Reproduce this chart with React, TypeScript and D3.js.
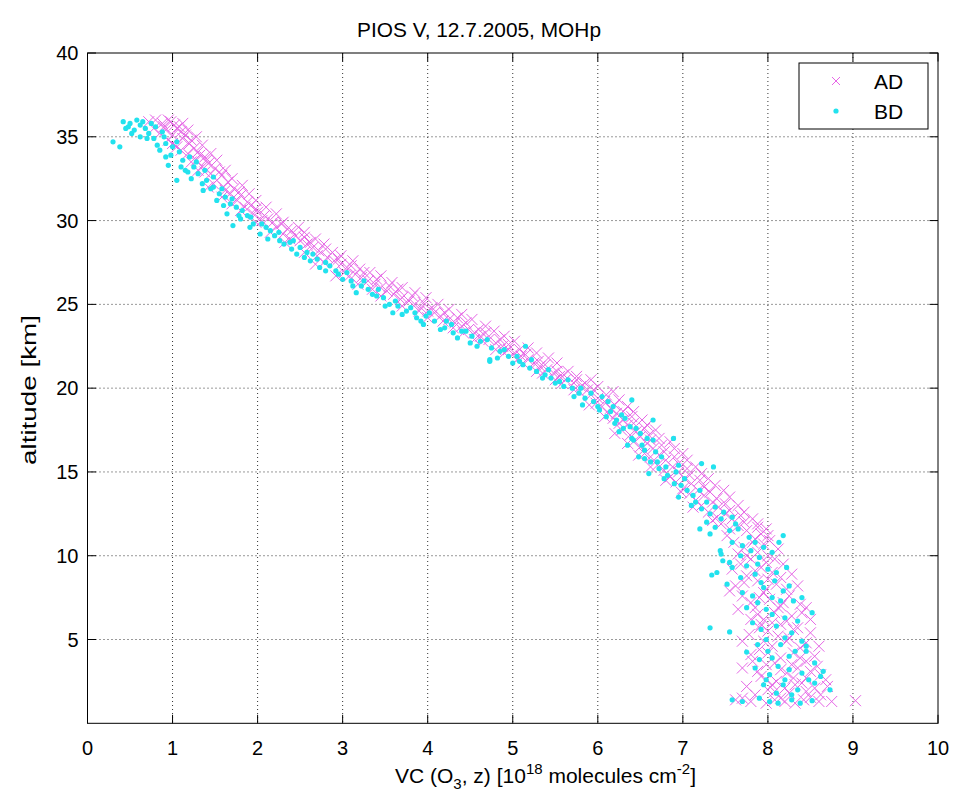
import React from "react";
import * as d3 from "d3";

const title = "PIOS V, 12.7.2005, MOHp";
const xTicks = [0, 1, 2, 3, 4, 5, 6, 7, 8, 9, 10];
const yTicks = [5, 10, 15, 20, 25, 30, 35, 40];
const seriesNames = ["AD", "BD"];

// AD (magenta x markers): [VC, altitude]
const adPoints: [number, number][] = [
  [0.72,35.9],[0.80,36.0],[0.88,35.8],[0.95,36.0],[1.02,35.7],[0.78,35.5],[0.92,35.4],[1.05,35.5],[0.85,35.2],[1.00,35.1],[1.10,35.3],[0.95,34.8],[1.12,34.9],[1.20,34.6],[1.05,34.4],[1.25,34.3],[1.18,34.0],[1.30,34.1],[1.38,33.8],[1.28,33.6],
  [1.42,33.4],[1.35,33.2],[1.50,33.1],[1.45,32.8],[1.58,32.7],[1.52,32.4],[1.65,32.3],[1.60,32.0],[1.72,31.9],[1.68,31.6],[1.80,31.5],[1.76,31.2],[1.88,31.1],[1.85,30.8],
  [1.98,30.7],[1.95,30.4],[2.08,30.3],[2.05,30.0],[2.18,29.9],[2.22,29.6],[2.35,29.5],[2.30,29.2],[2.45,29.1],[2.50,28.8],[2.58,28.6],[2.65,28.4],[2.72,28.2],[2.70,27.9],
  [2.82,27.8],[2.90,27.6],[2.98,27.4],[3.05,27.2],[3.02,26.9],[3.15,26.8],[3.22,26.6],[3.30,26.4],[3.38,26.2],[3.45,26.0],[3.52,25.8],[3.60,25.6],
  [3.70,25.4],[3.78,25.2],[3.85,25.0],[3.92,24.8],[4.00,24.6],[4.08,24.5],[4.15,24.3],[4.25,24.1],[4.32,23.9],[4.40,23.7],[4.48,23.5],[4.55,23.3],[4.62,23.1],[4.72,22.9],[4.80,22.7],[4.88,22.5],[4.95,22.3],[5.02,22.1],[5.10,21.9],[5.18,21.7],[5.25,21.5],[5.32,21.3],[5.40,21.1],[5.48,20.9],[5.55,20.7],[5.62,20.5],[5.72,20.3],[5.80,20.1],[5.88,19.9],[5.92,19.6],[6.00,19.4],[6.08,19.2],[6.05,18.9],[6.15,18.8],[6.22,18.5],[6.18,18.2],[6.30,18.1],[6.35,17.8],[6.28,17.5],[6.45,17.4],[6.50,17.1],[6.42,16.8],[6.58,16.7],[6.65,16.4],[6.55,16.1],[6.72,16.0],[6.80,15.7],[6.70,15.4],[6.88,15.3],[6.95,15.0],[6.85,14.7],[7.02,14.6],[7.10,14.3],[7.00,14.0],[7.18,13.9],[7.25,13.6],[7.15,13.3],[7.35,13.2],[7.42,12.9],[7.30,12.6],[7.50,12.5],[7.58,12.2],[7.45,11.9],[7.65,11.8],[7.75,11.5],[7.92,11.3],[7.85,11.0],[7.95,10.7],[7.72,10.5],[7.88,10.2],[8.00,10.0],[7.80,9.8],[7.68,9.5],[7.92,9.3],[8.05,9.0],[7.75,8.8],[7.88,8.5],[8.10,8.3],[8.22,8.0],[7.95,7.8],[7.70,7.6],[8.02,7.4],[8.18,7.2],[8.38,7.1],[7.85,6.9],[8.08,6.6],[8.28,6.4],[7.95,6.2],[8.15,5.9],[8.35,5.7],[8.00,5.5],[7.78,5.3],[8.25,5.1],[8.45,4.8],[8.05,4.6],[7.90,4.4],[8.30,4.2],[8.15,3.9],[8.45,3.7],[7.98,3.5],[7.70,3.3],[8.35,3.3],[8.22,3.0],[8.62,2.9],[7.92,2.8],[8.10,2.5],[8.40,2.4],[8.55,2.1],[8.00,2.0],[8.25,1.8],[7.85,1.7],
  [7.62,1.4],[7.80,1.3],[7.98,1.2],[8.08,1.4],[8.20,1.3],[8.42,1.4],[8.60,1.3],[8.75,1.3],[9.03,1.35],[8.15,1.5],[8.32,1.2],
  [0.98,35.9],[1.08,35.6],[1.15,35.1],[1.00,34.6],[1.22,34.8],[1.32,33.9],[1.40,33.6],[1.30,33.0],[1.55,32.9],[1.48,32.2],[1.62,31.8],[1.78,31.7],[1.70,31.0],[1.92,30.9],[2.00,30.5],[2.12,30.1],[2.28,29.8],[2.40,29.4],[2.38,28.9],[2.55,29.0],[2.62,28.7],[2.80,28.3],[2.78,27.5],[2.95,27.7],[3.10,27.3],[3.08,26.7],[3.25,26.9],[3.40,26.5],[3.35,25.9],[3.55,26.1],[3.65,25.9],[3.68,25.3],[3.82,25.5],[3.95,25.1],[3.90,24.6],[4.05,24.8],[4.20,24.5],[4.18,24.0],[4.35,24.2],[4.45,23.9],[4.42,23.3],[4.60,23.5],[4.68,23.3],[4.65,22.8],[4.85,22.9],[4.95,22.6],[4.90,22.1],[5.08,22.3],[5.15,22.0],[5.12,21.5],[5.30,21.6],[5.38,21.4],[5.35,20.9],[5.52,21.0],[5.60,20.8],[5.58,20.3],[5.75,20.5],[5.85,20.3],[5.78,19.8],[5.95,19.9],[6.10,19.6],[5.98,19.1],[6.20,19.0],[6.12,18.5],[6.30,18.6],[6.40,18.3],[6.25,17.9],[6.42,17.9],[6.55,17.6],[6.38,17.2],[6.60,17.2],[6.62,16.9],[6.50,16.5],[6.75,16.6],[6.78,16.2],[6.62,15.9],[6.90,15.9],[6.95,15.5],[6.78,15.1],[7.05,15.2],[7.08,14.8],[6.92,14.4],[7.20,14.5],[7.25,14.1],[7.08,13.7],[7.32,13.8],[7.40,13.4],[7.22,13.0],[7.50,13.1],[7.55,12.7],[7.40,12.3],[7.68,12.4],[7.72,12.0],[7.55,11.6],[7.88,11.7],[8.00,11.2],[7.82,10.8],[7.65,10.1],[8.12,10.4],[7.98,9.6],[7.85,9.1],[8.15,8.7],[7.62,8.2],[7.98,8.0],[8.25,7.6],[7.80,7.2],[8.12,6.9],[7.88,6.5],[8.40,6.6],[8.05,6.0],[7.90,5.7],[8.50,5.4],[8.12,5.2],[7.95,4.9],[8.38,4.5],[7.80,4.1],[8.55,4.0],[8.08,3.6],[8.28,3.5],[8.50,3.1],[7.88,3.1],[8.30,2.7],[8.05,2.3],[8.68,2.6],[8.20,2.1],[8.45,1.9],
  [1.12,35.8],[0.90,35.6],[1.18,35.4],[1.28,35.0],[1.35,34.5],[1.10,34.2],[1.45,34.0],[1.22,33.5],[1.52,33.6],[1.38,32.9],[1.62,33.0],[1.70,32.5],[1.42,32.0],[1.82,32.1],[1.58,31.4],[1.90,31.6],[1.98,31.2],[1.80,30.6],[2.10,30.8],[2.22,30.4],[1.98,29.9],[2.30,29.9],[2.15,29.3],[2.48,29.6],[2.55,29.3],[2.32,28.7],[2.68,28.9],[2.78,28.6],[2.55,28.1],[2.88,28.1],[2.98,27.9],[2.68,27.4],[3.12,27.6],[3.20,27.1],[2.92,26.7],[3.32,26.9],[3.45,26.7],[3.18,26.2],[3.58,26.3],[3.70,26.0],[3.45,25.5],[3.85,25.7],[3.98,25.4],[3.70,24.9],[4.12,25.0],[4.25,24.7],[4.00,24.2],[4.40,24.4],[4.52,24.1],[4.30,23.6],[4.68,23.7],[4.78,23.4],[4.55,22.9],[4.90,23.1],[5.02,22.8],[4.80,22.3],[5.18,22.4],[5.28,22.1],[5.05,21.7],[5.42,21.8],[5.52,21.5],[5.28,21.0],[5.65,21.0],[5.75,20.7],[5.50,20.5],[5.92,20.5],[6.00,20.1],[5.72,19.9],[6.18,19.8],[6.25,19.3],[5.90,19.0],[6.35,18.9],[6.42,18.6],[6.08,18.3],[6.52,18.1],[6.58,17.8],[6.20,17.3],[6.68,17.5],[6.72,17.0],[6.35,16.7],[6.85,16.8],[6.90,16.4],[6.48,16.0],[7.00,16.1],[7.05,15.7],[6.62,15.3],[7.15,15.3],[7.22,14.9],[6.80,14.5],[7.30,14.6],[7.38,14.2],[6.98,13.8],[7.48,13.9],[7.55,13.5],[7.12,12.9],[7.65,13.0],[7.72,12.6],[7.35,12.1],[7.82,12.2],[7.88,11.9],[7.52,11.2],[7.98,11.6],[8.02,10.9],[7.60,10.8],[7.75,10.0],[8.08,9.8],[7.58,9.2],[8.18,9.5],[7.72,8.4],[8.28,8.9],[8.00,8.6],[7.55,7.9],[8.35,8.2],[7.90,7.5],[8.15,7.0],[7.65,6.8],[8.45,6.9],[7.80,6.2],[8.22,6.1],[8.50,6.2],[7.92,5.9],[8.30,5.6],[7.70,4.9],[8.22,4.9],[8.60,4.6],[8.00,4.2],[8.38,3.9],[7.82,3.7],[8.58,3.4],[8.15,3.2],[7.98,2.6],[8.45,2.7],[8.70,2.2],[7.75,2.2],[8.32,2.3],[8.08,1.9],[8.62,1.7],[7.70,1.5],[8.50,1.55]
];

// BD (cyan dots): [VC, altitude]
const bdPoints: [number, number][] = [
  [0.42,35.9],[0.50,35.8],[0.58,36.0],[0.48,35.6],[0.62,35.7],[0.55,35.4],[0.68,35.5],[0.72,35.2],[0.38,34.4],[0.30,34.7],[0.62,35.0],[0.80,35.6],[0.88,35.3],[0.78,34.9],[0.92,34.6],[0.85,34.2],[1.00,34.4],[0.98,33.9],[1.08,34.1],[0.95,33.3],[1.12,33.6],[1.20,33.8],[1.05,32.4],[1.15,33.0],[1.25,33.2],[1.30,32.8],[1.22,32.5],[1.36,31.8],[1.40,32.4],[1.48,32.6],[1.45,31.9],[1.55,31.6],[1.52,31.2],[1.62,31.4],[1.64,30.4],[1.68,31.0],[1.75,30.8],[1.71,29.7],[1.82,30.6],[1.80,30.1],[1.91,29.6],[1.92,30.2],[2.03,29.2],[2.05,29.8],[2.15,29.4],[2.26,28.8],[2.20,29.1],[2.31,28.6],[2.38,28.7],[2.46,28.0],[2.50,28.4],[2.62,27.6],[2.58,28.1],[2.73,27.2],[2.70,27.7],[2.85,27.3],[2.92,27.0],[3.00,26.5],[3.10,26.4],[3.16,25.7],[3.22,26.1],[3.30,25.9],[3.40,25.5],[3.48,25.4],[3.59,24.5],[3.55,25.0],[3.65,24.9],[3.75,24.6],[3.87,24.2],[3.85,24.5],[3.98,24.3],[4.08,24.0],[4.20,23.6],[4.30,23.3],[4.28,23.8],[4.40,23.4],[4.50,22.7],[4.52,23.1],[4.62,22.8],[4.73,21.7],[4.75,22.4],[4.85,22.2],[4.95,21.9],[5.00,21.5],[5.08,21.6],[5.15,22.5],[5.20,21.2],[5.28,21.0],[5.38,20.8],[5.45,20.6],[5.50,20.3],[5.60,20.1],[5.70,20.0],[5.78,19.7],[5.85,19.4],[5.82,19.0],[5.95,19.2],[6.05,19.5],[6.02,18.7],[6.10,18.3],[6.18,18.9],[6.20,17.9],[6.28,18.4],[6.25,17.4],[6.38,17.7],[6.40,17.0],[6.50,17.3],[6.35,16.6],[6.55,16.3],[6.65,16.9],[6.48,15.9],[6.62,15.6],[6.75,15.9],[6.72,15.2],[6.60,14.9],[6.82,14.8],[6.95,15.4],[6.90,14.3],[7.05,13.9],[6.95,13.5],[7.15,13.2],[7.22,12.8],[7.10,13.0],[7.32,12.5],[7.28,12.0],[7.45,12.2],[7.38,11.7],[7.55,11.5],[7.62,11.9],[7.32,11.3],[7.58,10.8],[7.70,10.6],[8.13,10.8],[8.18,11.2],[7.45,10.1],[7.80,10.3],[7.90,9.9],[7.55,9.6],[8.22,9.3],[7.75,9.4],[8.00,9.2],[7.40,9.0],[7.85,8.9],[8.08,8.5],[7.95,8.1],[8.18,7.9],[7.70,7.8],[8.05,7.5],[7.88,7.2],[8.30,7.3],[8.52,6.6],[7.98,6.8],[8.20,6.3],[7.32,5.7],[7.55,5.45],[7.82,6.0],[8.10,5.8],[8.28,5.4],[7.98,5.0],[8.15,4.7],[8.40,4.9],[7.75,4.25],[8.00,4.3],[8.25,4.0],[8.45,4.3],[7.90,3.8],[8.12,3.4],[8.65,3.1],[8.40,3.0],[8.02,2.9],[8.20,2.6],[8.73,2.0],[8.55,2.4],[7.95,2.3],[8.35,2.0],[8.10,1.8],
  [7.58,1.4],[7.70,1.3],[7.90,1.5],[8.02,1.3],[8.12,1.2],[8.28,1.4],[8.52,1.35],[8.38,1.2],
  [7.20,11.6],[7.44,10.3],[7.47,9.7],[7.34,8.85],[7.52,8.3],[7.58,9.3],
  [6.40,19.3],[6.65,18.1],[6.89,17.0],[7.36,15.3],[7.22,15.5],[3.95,23.8],[4.73,21.6],
  [0.45,35.5],[0.65,35.9],[0.75,35.8],[0.52,35.2],[0.70,34.9],[0.82,34.5],[0.90,35.0],[1.05,34.7],[0.92,33.8],[1.10,33.2],[1.18,32.9],[1.28,33.5],[1.35,32.2],[1.38,33.0],[1.48,32.0],[1.58,31.9],[1.60,30.9],[1.70,31.3],[1.78,30.3],[1.88,30.3],[1.95,29.8],[2.10,29.6],[2.12,28.9],[2.25,29.3],[2.40,28.3],[2.42,28.8],[2.55,27.8],[2.65,28.0],[2.80,27.0],[2.80,27.5],[2.95,26.8],[3.05,26.9],[3.12,26.1],[3.25,26.4],[3.35,25.6],[3.42,25.9],[3.50,24.9],[3.62,25.2],[3.70,24.4],[3.80,24.8],[3.92,24.0],[4.02,24.5],[4.15,23.5],[4.22,24.0],[4.35,23.0],[4.45,23.4],[4.58,22.5],[4.70,22.9],[4.82,21.8],[4.90,22.3],[5.05,21.9],[5.12,21.4],[5.22,21.7],[5.35,20.6],[5.42,21.1],[5.55,20.4],[5.65,20.5],[5.72,19.5],[5.80,20.0],[5.92,19.7],[6.00,18.9],[6.12,19.2],[6.15,18.6],[6.22,18.1],[6.32,18.2],[6.30,17.6],[6.45,17.6],[6.42,16.9],[6.52,16.6],[6.58,17.0],[6.55,15.8],[6.68,16.2],[6.70,15.6],[6.80,15.3],[6.78,14.6],[6.92,15.0],[6.98,14.2],[7.02,14.6],[7.12,13.6],[7.20,13.9],[7.28,13.2],[7.38,12.9],[7.48,12.6],[7.58,12.3],[7.65,11.6],[7.78,11.1],[7.85,10.8],[7.95,10.5],[7.68,10.0],[8.05,10.2],[7.88,9.5],[8.10,9.0],[7.68,8.7],[7.92,8.4],[8.25,8.2],[7.82,7.6],[8.15,7.3],[8.40,7.5],[7.75,6.9],[8.05,6.5],[8.35,6.1],[7.92,5.6],[8.20,5.1],[8.45,4.6],[7.88,4.7],[8.32,4.3],[8.05,3.9],[8.55,3.6],[7.85,3.3],[8.25,3.2],[8.48,2.6],[7.98,2.6],[8.62,2.8],[8.28,1.7],[8.18,2.3]
];

const W = 956;
const H = 801;
const M = { left: 87.5, right: 938, top: 53, bottom: 723.3 };
const sans = "'Liberation Sans', Arial, Helvetica, sans-serif";
const MAG = "#e040e0";
const CYAN = "#22e2ee";

export default function App() {
  const x = d3.scaleLinear().domain([0, 10]).range([M.left, M.right]);
  const y = d3.scaleLinear().domain([0, 40]).range([M.bottom, M.top]);
  const tickLen = 8.5;
  const s = 5.5;

  return (
    <svg width={W} height={H} style={{ position: "absolute", left: 0, top: 0, background: "#fff" }}>
      <rect x={0} y={0} width={W} height={H} fill="#fff" />
      {/* grid */}
      <g stroke="#333" strokeWidth={1} strokeDasharray="1,3">
        {xTicks.slice(1, -1).map((t) => (
          <line key={"gx" + t} x1={x(t)} x2={x(t)} y1={M.top} y2={M.bottom} />
        ))}
        {yTicks.slice(0, -1).map((t) => (
          <line key={"gy" + t} x1={M.left} x2={M.right} y1={y(t)} y2={y(t)} />
        ))}
      </g>
      {/* ticks */}
      <g stroke="#000" strokeWidth={1}>
        {xTicks.map((t) => (
          <g key={"tx" + t}>
            <line x1={x(t)} x2={x(t)} y1={M.bottom} y2={M.bottom - tickLen} />
            <line x1={x(t)} x2={x(t)} y1={M.top} y2={M.top + tickLen} />
          </g>
        ))}
        {yTicks.map((t) => (
          <g key={"ty" + t}>
            <line x1={M.left} x2={M.left + tickLen} y1={y(t)} y2={y(t)} />
            <line x1={M.right} x2={M.right - tickLen} y1={y(t)} y2={y(t)} />
          </g>
        ))}
      </g>
      {/* AD */}
      <g stroke={MAG} strokeWidth={1} fill="none" opacity={0.8}>
        {adPoints.map(([vx, vy], i) => {
          const px = x(vx);
          const py = y(vy);
          return (
            <path key={"a" + i} d={`M${px - s},${py - s}L${px + s},${py + s}M${px - s},${py + s}L${px + s},${py - s}`} />
          );
        })}
      </g>
      {/* BD */}
      <g fill={CYAN}>
        {bdPoints.map(([vx, vy], i) => (
          <circle key={"b" + i} cx={x(vx)} cy={y(vy)} r={2.6} />
        ))}
      </g>
      {/* axes box */}
      <rect x={M.left} y={M.top} width={M.right - M.left} height={M.bottom - M.top} fill="none" stroke="#000" strokeWidth={1} />
      {/* tick labels */}
      <g fontFamily={sans} fontSize={20} fill="#000">
        {xTicks.map((t) => (
          <text key={"lx" + t} x={x(t)} y={M.bottom + 32} textAnchor="middle">{t}</text>
        ))}
        {yTicks.map((t) => (
          <text key={"ly" + t} x={M.left - 9} y={y(t) + 7} textAnchor="end">{t}</text>
        ))}
      </g>
      {/* title */}
      <text x={357} y={37} fontFamily={sans} fontSize={20} fill="#000" textLength={244} lengthAdjust="spacingAndGlyphs">{title}</text>
      {/* x label */}
      <text x={395} y={783} fontFamily={sans} fontSize={21} fill="#000">
        VC (O<tspan fontSize={15} dy={6}>3</tspan><tspan dy={-6}>, z) [10</tspan><tspan fontSize={15} dy={-9}>18</tspan><tspan dy={9}> molecules cm</tspan><tspan fontSize={15} dy={-9}>-2</tspan><tspan dy={9}>]</tspan>
      </text>
      {/* y label */}
      <text transform={`translate(36,${390}) rotate(-90)`} textAnchor="middle" fontFamily={sans} fontSize={20} fill="#000" textLength={150} lengthAdjust="spacingAndGlyphs">altitude [km]</text>
      {/* legend */}
      <rect x={799} y={63} width={129} height={66} fill="#fff" stroke="#000" strokeWidth={1} />
      <path d={`M${836 - 4},${81 - 4}L${836 + 4},${81 + 4}M${836 - 4},${81 + 4}L${836 + 4},${81 - 4}`} stroke={MAG} strokeWidth={1} opacity={0.8} />
      <circle cx={836} cy={111} r={2.6} fill={CYAN} />
      <text x={874} y={89} fontFamily={sans} fontSize={21} fill="#000">{seriesNames[0]}</text>
      <text x={874} y={119} fontFamily={sans} fontSize={21} fill="#000">{seriesNames[1]}</text>
    </svg>
  );
}
